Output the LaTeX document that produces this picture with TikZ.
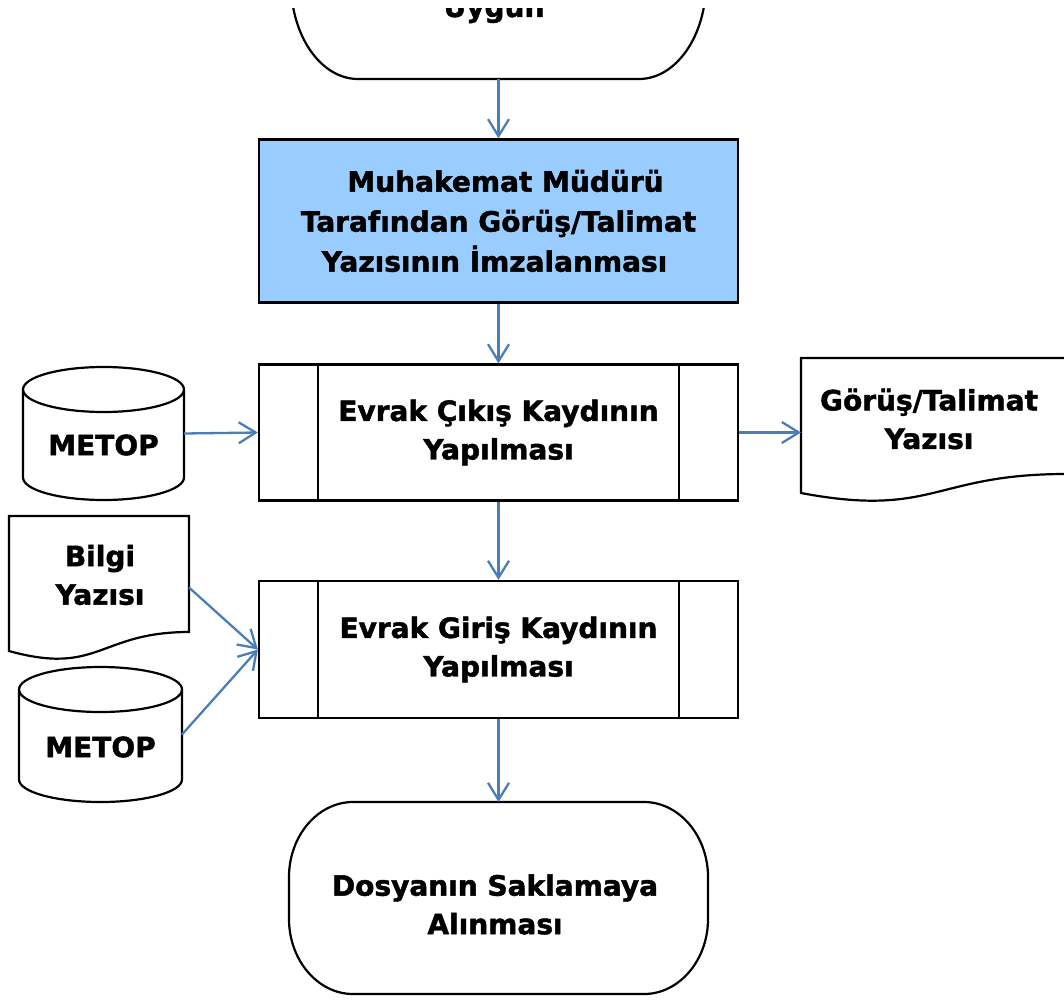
\documentclass[tikz,border=0pt]{standalone}
\usepackage{fontspec}
\setmainfont{DejaVu Sans}[BoldFeatures={FakeBold=1.6}]
\usetikzlibrary{arrows.meta}
\definecolor{arrowblue}{RGB}{74,126,187}
\definecolor{boxblue}{RGB}{153,204,255}
\begin{document}
\begin{tikzpicture}[x=1pt,y=-1pt,
  shapeline/.style={draw=black,line width=2.2pt},
  txt/.style={font=\bfseries\fontsize{28}{38.5}\selectfont,align=center,inner sep=0pt},
  flow/.style={draw=arrowblue,line width=2.3pt,-{Straight Barb[length=17pt,width=21pt]}},
  area/.style={inner sep=0pt,outer sep=0pt},
  procbox/.style={draw=black,line width=2.2pt,minimum width=479pt,txt}
]
\useasboundingbox (0,0) rectangle (1064,1000);

% top terminal (cut by the top edge)
\begin{scope}
\clip (0,9) rectangle (1064,1000);
\draw[shapeline] (358,-113) -- (639,-113) .. controls (676,-113) and (706,-70) .. (706,-17)
  .. controls (706,36) and (676,79) .. (639,79) -- (358,79)
  .. controls (321,79) and (291,36) .. (291,-17) .. controls (291,-70) and (321,-113) .. (358,-113) -- cycle;
\node[txt,anchor=base] (uygun) at (494,17) {Uygun};
\end{scope}
\node[area,minimum width=415pt,minimum height=192pt] (term1) at (498.5,-17) {};

% blue box
\node[draw=black,line width=2.4pt,fill=boxblue,minimum width=479pt,minimum height=163pt,txt,
  font=\bfseries\fontsize{28}{40}\selectfont] (mudur) at (498.5,221)
  {\hspace*{14pt}Muhakemat Müdürü\\Tarafından Görüş/Talimat\\Yazısının İmzalanması\hspace*{8pt}};

% process boxes
\node[procbox,minimum height=136pt] (p1) at (498.5,432.5) {Evrak Çıkış Kaydının\\Yapılması};
\draw[shapeline] ([xshift=60pt]p1.north west) -- ([xshift=60pt]p1.south west);
\draw[shapeline] ([xshift=-60pt]p1.north east) -- ([xshift=-60pt]p1.south east);

\node[procbox,minimum height=137pt] (p2) at (498.5,649.5) {Evrak Giriş Kaydının\\Yapılması};
\draw[shapeline] ([xshift=60pt]p2.north west) -- ([xshift=60pt]p2.south west);
\draw[shapeline] ([xshift=-60pt]p2.north east) -- ([xshift=-60pt]p2.south east);

% cylinder 1
\node[area,minimum width=161pt,minimum height=133pt] (cyl1) at (103.5,433.5) {};
\draw[shapeline] (103.5,389.5) ellipse [x radius=80.5pt,y radius=22.5pt];
\draw[shapeline] (23,389.5) -- (23,477.5) .. controls (23,489.9) and (59,500) .. (103.5,500)
  .. controls (148,500) and (184,489.9) .. (184,477.5) -- (184,389.5);
\node[txt] (metop1) at (103.5,445) {METOP};

% cylinder 2
\node[area,minimum width=163pt,minimum height=135pt] (cyl2) at (100.5,734.5) {};
\draw[shapeline] (100.5,689.5) ellipse [x radius=81.5pt,y radius=22.5pt];
\draw[shapeline] (19,689.5) -- (19,779.5) .. controls (19,791.9) and (55.5,802) .. (100.5,802)
  .. controls (145.5,802) and (182,791.9) .. (182,779.5) -- (182,689.5);
\node[txt] (metop2) at (100.5,747) {METOP};

% document: Görüş/Talimat Yazısı
\node[area,minimum width=265pt,minimum height=135pt] (docg) at (933.5,425.5) {};
\draw[shapeline] (1066,474) -- (1066,358) -- (801,358) -- (801,493)
  .. controls (933.5,518) and (933.5,474) .. (1066,474);
\node[txt] (docgtext) at (929,419) {Görüş/Talimat\\Yazısı};

% document: Bilgi Yazısı
\node[area,minimum width=180pt,minimum height=135pt] (docb) at (99,583.5) {};
\draw[shapeline] (9,516) -- (189,516) -- (189,632) .. controls (99,632) and (99,676) .. (9,651) -- cycle;
\node[txt] (docbtext) at (100,575) {Bilgi\\Yazısı};

% bottom terminal
\node[area,minimum width=419pt,minimum height=192pt] (term2) at (498.5,898) {};
\draw[shapeline] (353,802) -- (644,802) .. controls (679,802) and (708,835.6) .. (708,877)
  -- (708,919) .. controls (708,960.4) and (679,994) .. (644,994) -- (353,994)
  .. controls (318,994) and (289,960.4) .. (289,919) -- (289,877)
  .. controls (289,835.6) and (318,802) .. (353,802) -- cycle;
\node[txt] (term2text) at (495,904.5) {Dosyanın Saklamaya\\Alınması};

% connectors
\draw[flow] (term1.south) -- (mudur.north);
\draw[flow] (mudur.south) -- (p1.north);
\draw[flow] (cyl1.east) -- (p1.west);
\draw[flow] (p1.east) -- (p1.east -| docg.west);
\draw[flow] (p1.south) -- (p2.north);
\draw[flow] ([yshift=-4pt]docb.east) -- (p2.west);
\draw[flow] (cyl2.east) -- (p2.west);
\draw[flow] (p2.south) -- (term2.north);
\end{tikzpicture}
\end{document}
